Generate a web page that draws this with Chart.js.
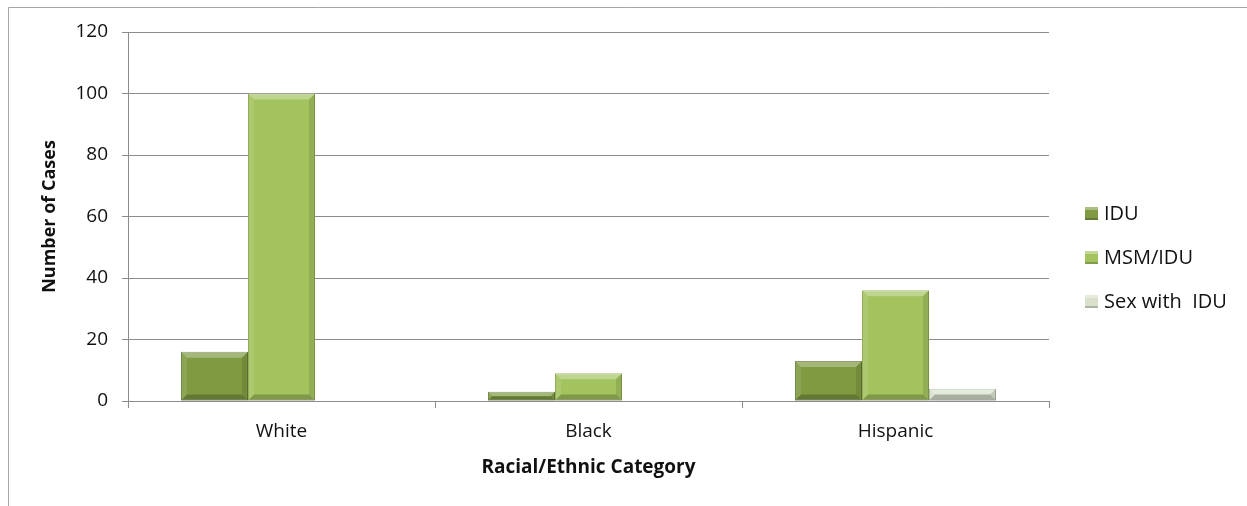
<!DOCTYPE html>
<html>
<head>
<meta charset="utf-8">
<script src="https://cdn.jsdelivr.net/npm/chart.js@4/dist/chart.umd.min.js"></script>
<style>
  html, body { margin: 0; padding: 0; background: #fff; }
  #wrap { width: 1247px; height: 506px; }
</style>
</head>
<body>
<div id="wrap"><canvas id="chart" width="1247" height="506"></canvas></div>
<script>
const categories = ['White', 'Black', 'Hispanic'];
const seriesNames = ['IDU', 'MSM/IDU', 'Sex with  IDU'];
const iduCases = [16, 3, 13];
const msmIduCases = [100, 9, 36];
const sexWithIduCases = [0, 0, 4];
const yTickValues = [0, 20, 40, 60, 80, 100, 120];

// face colour, border colour for each series
const fills = ['#7f9a40', '#a3c35f', '#d9e1cd'];
const edges = ['#5f7630', '#86a34a', '#a9b0a0'];

Chart.defaults.font.family = '"Open Sans", sans-serif';
Chart.defaults.color = '#111';

// Excel-2007 style bevel on each bar
const bevel = {
  id: 'bevel',
  afterDatasetsDraw(chart) {
    const ctx = chart.ctx;
    chart.data.datasets.forEach((ds, i) => {
      const meta = chart.getDatasetMeta(i);
      meta.data.forEach((el, j) => {
        if (!ds.data[j]) return;
        const p = el.getProps(['x', 'y', 'base', 'width'], true);
        const x0 = p.x - p.width / 2, x1 = p.x + p.width / 2;
        const y0 = p.y, y1 = p.base;
        const b = Math.min(6, (y1 - y0) / 2, p.width / 2);
        const poly = (pts, col) => {
          ctx.beginPath();
          ctx.moveTo(pts[0][0], pts[0][1]);
          pts.slice(1).forEach(q => ctx.lineTo(q[0], q[1]));
          ctx.closePath();
          ctx.fillStyle = col;
          ctx.fill();
        };
        ctx.save();
        poly([[x0, y0], [x1, y0], [x1 - b, y0 + b], [x0 + b, y0 + b]], 'rgba(255,255,255,0.30)');
        poly([[x0, y0], [x0 + b, y0 + b], [x0 + b, y1 - b], [x0, y1]], 'rgba(255,255,255,0.10)');
        poly([[x1, y0], [x1, y1], [x1 - b, y1 - b], [x1 - b, y0 + b]], 'rgba(0,0,0,0.10)');
        poly([[x0, y1], [x0 + b, y1 - b], [x1 - b, y1 - b], [x1, y1]], 'rgba(0,0,0,0.22)');
        ctx.restore();
      });
    });
  }
};

// outer frame and legend on the right
const frame = {
  id: 'frame',
  beforeDraw(chart) {
    const ctx = chart.ctx;
    ctx.save();
    ctx.strokeStyle = '#a6a6a6';
    ctx.lineWidth = 1;
    ctx.beginPath();
    ctx.moveTo(8.5, chart.height + 2);
    ctx.lineTo(8.5, 7.5);
    ctx.lineTo(chart.width + 2, 7.5);
    ctx.stroke();
    ctx.restore();
  },
  afterDraw(chart) {
    const ctx = chart.ctx;
    const area = chart.chartArea;
    ctx.save();
    ctx.font = '20px "Open Sans", sans-serif';
    ctx.textBaseline = 'middle';
    chart.data.datasets.forEach((ds, i) => {
      const x = area.right + 36;
      const y = area.top + 181 + i * 44;
      ctx.fillStyle = fills[i];
      ctx.fillRect(x, y - 6, 13, 13);
      ctx.fillStyle = 'rgba(255,255,255,0.35)';
      ctx.fillRect(x, y - 6, 13, 3);
      ctx.fillStyle = 'rgba(0,0,0,0.2)';
      ctx.fillRect(x, y + 5, 13, 2);
      ctx.fillStyle = '#111';
      ctx.fillText(ds.label, x + 19, y + 1);
    });
    ctx.restore();
  }
};

const seriesData = [iduCases, msmIduCases, sexWithIduCases];

new Chart(document.getElementById('chart'), {
  type: 'bar',
  data: {
    labels: categories,
    datasets: seriesData.map((vals, i) => ({
      label: seriesNames[i],
      data: vals,
      backgroundColor: fills[i],
      borderColor: edges[i],
      borderWidth: c => (c.raw ? 1 : 0),
      borderSkipped: false,
      categoryPercentage: 0.655,
      barPercentage: 1
    }))
  },
  plugins: [frame, bevel],
  options: {
    responsive: false,
    animation: false,
    layout: { padding: { top: 32, right: 198, left: 0, bottom: 0 } },
    plugins: {
      legend: { display: false },
      tooltip: { enabled: false }
    },
    scales: {
      x: {
        afterFit: s => { s.height = 105; },
        border: { display: true, color: '#8c8c8c', width: 1 },
        grid: { offset: true, drawOnChartArea: false, drawTicks: true, tickLength: 7, color: '#8c8c8c' },
        ticks: { font: { size: 19 }, padding: 12, color: '#111' },
        title: {
          display: true,
          text: 'Racial/Ethnic Category',
          font: { size: 19, weight: 'bold' },
          padding: { top: 0, bottom: 27 },
          color: '#111'
        }
      },
      y: {
        min: 0,
        max: 120,
        afterFit: s => { s.width = 128; },
        afterBuildTicks: s => { s.ticks = yTickValues.map(v => ({ value: v })); },
        border: { display: true, color: '#8c8c8c', width: 1 },
        grid: { color: '#8c8c8c', tickLength: 6, drawTicks: true },
        ticks: { font: { size: 19 }, padding: 14, color: '#111' },
        title: {
          display: true,
          text: 'Number of Cases',
          font: { size: 18, weight: 'bold' },
          padding: { top: 39, bottom: 0 },
          color: '#111'
        }
      }
    }
  }
});
</script>
</body>
</html>
